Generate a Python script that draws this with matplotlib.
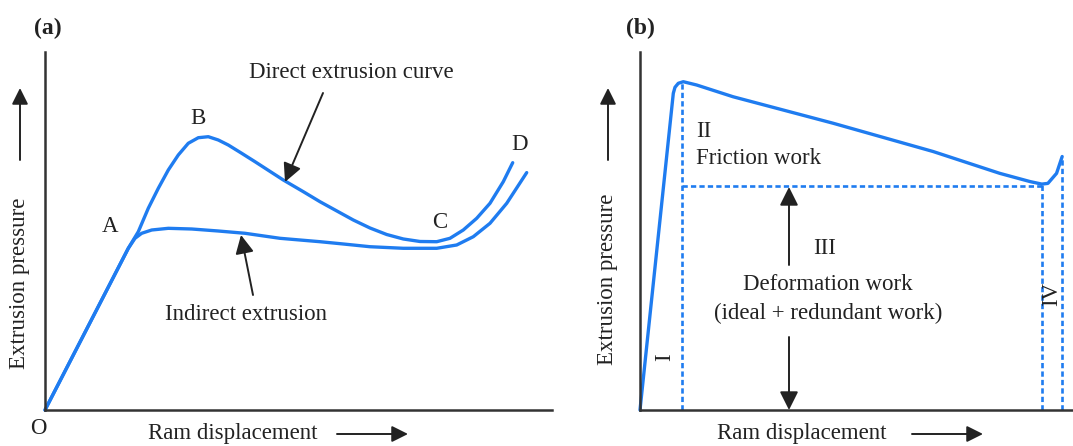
"""Extrusion pressure vs ram displacement: (a) direct/indirect, (b) work components."""

import matplotlib.pyplot as plt
from matplotlib.patches import FancyArrowPatch

W, H = 1073, 446
BLUE = "#1f7cf0"
INK = "#222222"
FONT = "Liberation Serif"
FS = 16.5

# ---- panel (a): curves, axes units 0-100
direct_x = [0, 16.43, 18.40, 20.37, 22.35, 24.32, 26.29, 28.26, 30.24, 32.21, 34.18,
            36.15, 38.80, 41.42, 47.00, 50.95, 54.24, 60.81, 64.10, 67.40, 70.67,
            73.96, 77.26, 79.88, 82.50, 85.15, 87.77, 90.39, 92.25]
direct_y = [0, 45.17, 49.80, 56.34, 61.93, 67.04, 71.23, 74.50, 76.06, 76.34, 75.42,
            74.02, 71.70, 69.36, 64.25, 60.98, 58.18, 53.07, 50.84, 49.02, 47.77,
            47.07, 47.01, 47.96, 50.28, 53.55, 57.74, 63.77, 69.08]
indirect_x = [0, 16.43, 17.75, 19.07, 21.05, 24.32, 28.93, 34.18, 39.45, 46.35, 54.24,
              58.84, 64.10, 70.67, 77.26, 81.20, 84.48, 87.77, 91.07, 95.01]
indirect_y = [0, 45.17, 47.96, 49.36, 50.28, 50.75, 50.56, 50.00, 49.36, 47.96, 47.01,
              46.37, 45.61, 45.17, 45.17, 46.09, 48.41, 52.15, 57.74, 66.31]

# ---- panel (b): pressure curve and region boundaries
press_x = [0, 7.69, 8.08, 8.85, 10.0, 13.09, 21.5, 44.6, 67.7, 83.1, 90.1, 92.8,
           94.2, 96.2, 97.5]
press_y = [0, 88.46, 90.14, 91.26, 91.70, 90.78, 87.5, 80.1, 72.2, 66.1, 63.8, 63.1,
           63.3, 66.1, 70.8]
peak_x, peak_y = 9.6, 91.5
steady_y = 62.6
end_x, end_y = 92.8, 63.1
last_x, last_y = 97.5, 70.8


def fx(px):
    return px / W


def fy(py):
    return 1 - py / H


def make_axes(fig, left_px, right_px):
    ax = fig.add_axes([fx(left_px), fy(410), (right_px - left_px) / W, (410 - 52) / H])
    ax.set_xlim(0, 100)
    ax.set_ylim(0, 100)
    for side in ("top", "right"):
        ax.spines[side].set_visible(False)
    for side in ("left", "bottom"):
        ax.spines[side].set_color("#333333")
        ax.spines[side].set_linewidth(1.8)
    ax.set_xticks([])
    ax.set_yticks([])
    ax.patch.set_alpha(0)
    return ax


def text(fig, px, py, s, **kw):
    kw.setdefault("fontsize", FS)
    kw.setdefault("ha", "center")
    kw.setdefault("va", "center")
    fig.text(fx(px), fy(py), s, family=FONT, color=INK, **kw)


def arrow(fig, p0, p1, scale=16, lw=1.4):
    fig.add_artist(FancyArrowPatch(
        (fx(p0[0]), fy(p0[1])), (fx(p1[0]), fy(p1[1])), transform=fig.transFigure,
        arrowstyle="-|>,head_length=0.7,head_width=0.35", mutation_scale=scale,
        lw=lw, color=INK, shrinkA=0, shrinkB=0))


fig = plt.figure(figsize=(W / 100, H / 100), dpi=100)
fig.patch.set_facecolor("white")

curve = dict(color=BLUE, lw=2.4, clip_on=False, solid_joinstyle="round",
             solid_capstyle="round")

# panel (a)
ax_a = make_axes(fig, 45, 552)
ax_a.plot(direct_x, direct_y, **curve)
ax_a.plot(indirect_x, indirect_y, **curve)

text(fig, 48, 28, "(a)", fontsize=17, fontweight="bold")
text(fig, 110, 226, "A")
text(fig, 198, 118, "B")
text(fig, 440, 223, "C")
text(fig, 520, 145, "D")
text(fig, 38, 428, "O")
text(fig, 351, 73, "Direct extrusion curve")
text(fig, 246, 315, "Indirect extrusion")
arrow(fig, (323, 93), (285, 182))
arrow(fig, (253, 295), (241, 235))
text(fig, 20, 283, "Extrusion pressure", rotation=90)
arrow(fig, (20, 160), (20, 88), scale=14)
text(fig, 233, 433, "Ram displacement")
arrow(fig, (337, 434), (408, 434), scale=14)

# panel (b)
ax_b = make_axes(fig, 640, 1073)
ax_b.plot(press_x, press_y, **curve)
dash = dict(color=BLUE, lw=1.9, ls=(0, (2.0, 1.2)), clip_on=False)
ax_b.plot([peak_x, peak_x], [0, peak_y], **dash)
ax_b.plot([peak_x, end_x], [steady_y, steady_y], **dash)
ax_b.plot([end_x, end_x], [0, end_y], **dash)
ax_b.plot([last_x, last_x], [0, last_y], **dash)

text(fig, 640, 28, "(b)", fontsize=17, fontweight="bold")
text(fig, 696, 131, "II", ha="left")
text(fig, 696, 159, "Friction work", ha="left")
text(fig, 825, 248, "III")
text(fig, 828, 285, "Deformation work")
text(fig, 828, 313, "(ideal + redundant work)")
text(fig, 665, 357, "I", rotation=90)
text(fig, 1052, 294, "IV", rotation=90)
arrow(fig, (789, 265), (789, 187))
arrow(fig, (789, 337), (789, 410))
text(fig, 608, 279, "Extrusion pressure", rotation=90)
arrow(fig, (608, 160), (608, 88), scale=14)
text(fig, 802, 433, "Ram displacement")
arrow(fig, (912, 434), (983, 434), scale=14)

fig.savefig("out.png", dpi=100)
